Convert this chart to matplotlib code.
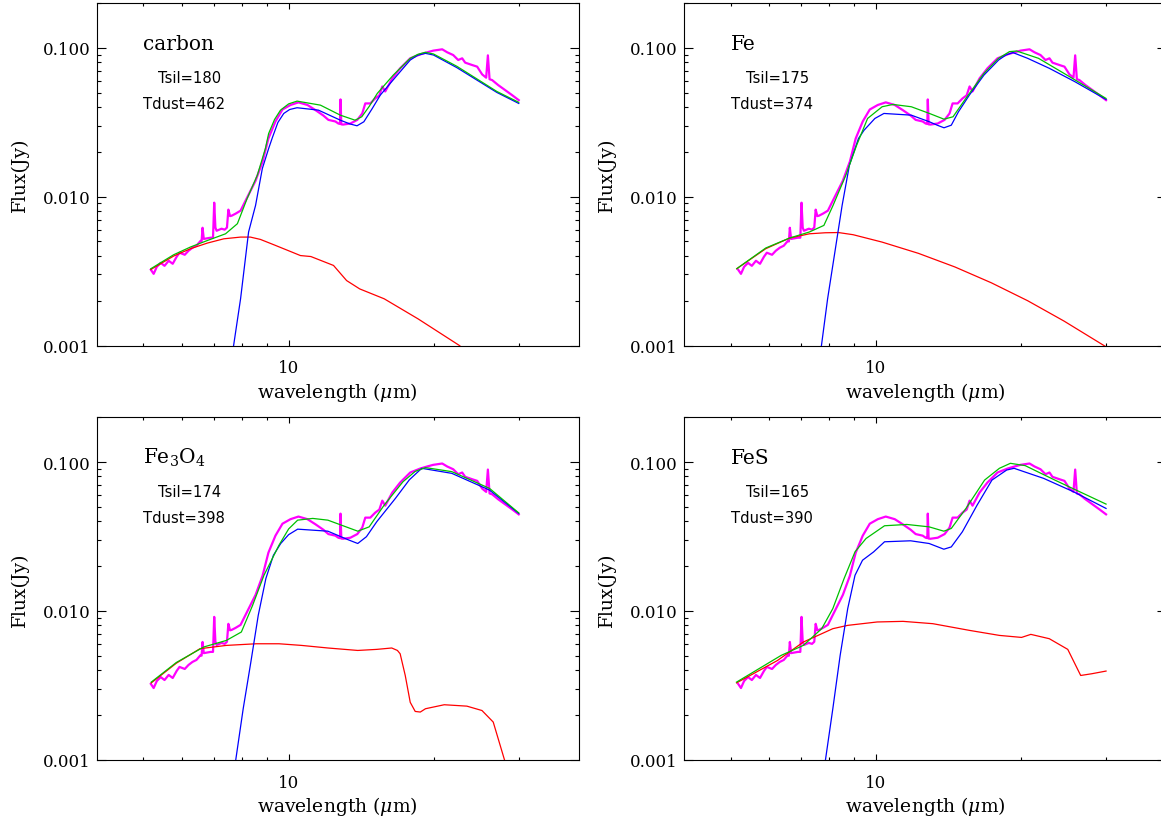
import matplotlib
matplotlib.use("Agg")
import matplotlib.pyplot as plt
from matplotlib.ticker import FixedLocator, FixedFormatter, NullFormatter

plt.rcParams['font.family'] = ['DejaVu Serif']
plt.rcParams['mathtext.fontset'] = 'dejavuserif'

# ---------------- data (wavelength in micron, flux in Jy) ----------------
obs_wl = [5.18, 5.25, 5.33, 5.43, 5.53, 5.64, 5.75, 5.86, 5.94, 6.09, 6.20, 6.32, 6.44, 6.57,
          6.60, 6.63, 6.67, 6.89, 6.97, 7.01, 7.05, 7.09, 7.26, 7.37, 7.45, 7.50, 7.56, 7.62,
          7.76, 7.95, 8.22, 8.54, 8.83, 9.08, 9.39, 9.71, 10.09, 10.48, 10.94, 11.36, 11.80,
          12.09, 12.50, 12.68, 12.78, 12.81, 12.86, 12.97, 13.43, 13.88, 14.21, 14.42, 14.77,
          15.12, 15.42, 15.64, 15.86, 16.40, 17.03, 17.87, 18.75, 19.38, 19.94, 20.82, 21.32,
          21.94, 22.47, 22.90, 23.23, 24.02, 24.60, 25.19, 25.68, 25.89, 26.10, 26.42, 27.19,
          28.11, 29.06, 30.0]
obs_flux = [0.00323, 0.00303, 0.00338, 0.00359, 0.00343, 0.00371, 0.00354, 0.00395, 0.00420,
            0.00407, 0.00433, 0.00454, 0.00468, 0.00505, 0.0050, 0.00618, 0.0052, 0.00530,
            0.0053, 0.00911, 0.0062, 0.00590, 0.00609, 0.00600, 0.0062, 0.00818, 0.0074,
            0.00745, 0.00768, 0.00805, 0.0100, 0.0128, 0.0172, 0.0246, 0.0320, 0.0385, 0.0413,
            0.0430, 0.0413, 0.0382, 0.0351, 0.0328, 0.0320, 0.0310, 0.0308, 0.0450, 0.0306,
            0.0305, 0.0310, 0.0328, 0.0362, 0.0423, 0.0423, 0.0457, 0.0479, 0.0550, 0.0509,
            0.0623, 0.0728, 0.0850, 0.0904, 0.0933, 0.0957, 0.0977, 0.0933, 0.0894, 0.0828,
            0.0850, 0.0795, 0.0766, 0.0747, 0.0663, 0.0630, 0.0890, 0.0615, 0.0607, 0.0562,
            0.0520, 0.0481, 0.0445]

# carbon
carbon_sil_wl = [7.51, 7.69, 7.95, 8.26, 8.54, 8.82, 9.09, 9.25, 9.50, 9.77, 10.05, 10.41,
                 11.53, 12.80, 13.40, 13.86, 14.32, 14.90, 15.49, 16.80, 17.87, 18.50, 19.20,
                 19.97, 22.33, 24.57, 27.02, 30.0]
carbon_sil_flux = [0.00067, 0.00100, 0.00206, 0.00579, 0.00874, 0.01544, 0.02105, 0.02485,
                   0.03150, 0.03622, 0.03850, 0.03957, 0.03813, 0.03264, 0.03080, 0.02993,
                   0.03184, 0.03900, 0.04810, 0.06558, 0.08276, 0.08900, 0.09183, 0.08944,
                   0.07356, 0.06070, 0.05015, 0.0423]
carbon_tot_wl = [5.18, 5.775, 6.26, 6.79, 7.40, 7.83, 8.20, 8.61, 8.95, 9.09, 9.35, 9.62, 10.0,
                 10.41, 11.64, 12.80, 13.73, 14.18, 14.70, 15.27, 16.48, 17.87, 18.55, 19.2,
                 19.97, 22.33, 24.57, 27.02, 30.0]
carbon_tot_flux = [0.00328, 0.00407, 0.00459, 0.00508, 0.00563, 0.00658, 0.00969, 0.01391,
                   0.02105, 0.02656, 0.03300, 0.03813, 0.04200, 0.04384, 0.04119, 0.03528,
                   0.03264, 0.03441, 0.04050, 0.04938, 0.06558, 0.0850, 0.0905, 0.09326,
                   0.0909, 0.0751, 0.0618, 0.0509, 0.0430]
carbon_dust_wl = [5.18, 5.775, 6.26, 6.79, 7.34, 7.95, 8.33, 8.74, 9.32, 10.09, 10.58, 11.12,
                  12.39, 13.19, 14.04, 15.78, 18.55, 22.6, 25.0]
carbon_dust_flux = [0.00324, 0.00399, 0.00447, 0.00488, 0.00521, 0.00535, 0.00535, 0.00516,
                    0.00475, 0.00428, 0.00402, 0.00396, 0.00345, 0.00273, 0.00240, 0.00206,
                    0.00151, 0.00100, 0.00075]

# Fe
fe_sil_wl = [7.5, 7.71, 7.94, 8.22, 8.51, 8.81, 9.20, 9.45, 9.95, 10.39, 11.84, 12.91, 13.40,
             13.84, 14.33, 14.83, 15.62, 16.75, 17.96, 18.60, 19.24, 20.63, 22.89, 25.85, 30.0]
fe_sil_flux = [0.00065, 0.00100, 0.00206, 0.00424, 0.00874, 0.01625, 0.02459, 0.02796, 0.03352,
               0.03622, 0.03528, 0.03184, 0.03020, 0.02902, 0.03021, 0.03719, 0.0481, 0.06558,
               0.08276, 0.0895, 0.09284, 0.0850, 0.07278, 0.05922, 0.04499]
fe_tot_wl = [5.145, 5.91, 6.62, 7.28, 7.80, 8.15, 8.66, 9.12, 9.61, 10.30, 10.85, 11.84, 12.91,
             13.84, 14.45, 15.36, 16.75, 17.96, 18.92, 19.58, 21.73, 24.54, 30.0]
fe_tot_flux = [0.00328, 0.00452, 0.00527, 0.00579, 0.00641, 0.00874, 0.01391, 0.02215, 0.03352,
               0.04018, 0.04164, 0.04018, 0.03622, 0.03315, 0.03441, 0.0457, 0.06735, 0.0850,
               0.09428, 0.09517, 0.0850, 0.06735, 0.0457]
fe_dust_wl = [5.145, 5.91, 6.62, 7.28, 7.85, 8.36, 8.97, 10.30, 12.25, 14.58, 17.34, 20.63,
              24.54, 30.0]
fe_dust_flux = [0.00328, 0.00447, 0.00527, 0.00563, 0.00572, 0.00574, 0.00555, 0.00495, 0.00416,
                0.00337, 0.00264, 0.00200, 0.00146, 0.00098]

# Fe3O4
fe3o4_sil_wl = [7.6, 7.77, 8.05, 8.35, 8.65, 8.97, 9.30, 9.63, 10.0, 10.44, 12.06, 13.30,
                13.91, 14.50, 15.23, 16.65, 17.80, 18.88, 21.79, 26.09, 30.0]
fe3o4_sil_flux = [0.00066, 0.00100, 0.00220, 0.00453, 0.00933, 0.01648, 0.02364, 0.02835,
                  0.03250, 0.03539, 0.03430, 0.03000, 0.02835, 0.03150, 0.03970, 0.05696,
                  0.07600, 0.09072, 0.08392, 0.06478, 0.04513]
fe3o4_tot_wl = [5.19, 5.85, 6.67, 7.43, 7.98, 8.42, 8.89, 9.55, 10.0, 10.44, 11.22, 12.06,
                13.91, 14.69, 15.78, 17.26, 18.30, 19.22, 21.79, 26.09, 30.0]
fe3o4_tot_flux = [0.00332, 0.00450, 0.00572, 0.00633, 0.00721, 0.01089, 0.01734, 0.02761,
                  0.03550, 0.04068, 0.04178, 0.04068, 0.03430, 0.03667, 0.05133, 0.07367,
                  0.08650, 0.09170, 0.08617, 0.06652, 0.0455]
fe3o4_dust_wl = [5.19, 5.85, 6.55, 7.43, 8.57, 9.55, 10.63, 12.06, 13.91, 15.23, 16.36, 16.81,
                 17.03, 17.45, 17.87, 18.30, 18.75, 19.22, 21.02, 23.42, 25.17, 26.56, 28.02, 29.0]
fe3o4_dust_flux = [0.00328, 0.00445, 0.00557, 0.00586, 0.00601, 0.00601, 0.00586, 0.00563,
                   0.00542, 0.00551, 0.00563, 0.00542, 0.00515, 0.00368, 0.00243, 0.00211,
                   0.00209, 0.00220, 0.00234, 0.00229, 0.00214, 0.00179, 0.00100, 0.0007]

# FeS
fes_sil_wl = [7.7, 7.86, 8.14, 8.43, 8.74, 9.05, 9.38, 9.89, 10.42, 11.80, 12.89, 13.83, 14.33,
              15.11, 16.21, 17.40, 18.67, 19.34, 22.27, 25.66, 30.0]
fes_sil_flux = [0.00066, 0.00100, 0.00220, 0.00502, 0.01035, 0.01734, 0.02188, 0.02489,
                0.02911, 0.02956, 0.02835, 0.02595, 0.02689, 0.03399, 0.05133, 0.07562,
                0.08834, 0.09072, 0.07764, 0.06321, 0.04877]
fes_tot_wl = [5.14, 6.36, 7.07, 7.72, 8.14, 8.59, 9.05, 9.54, 10.42, 11.59, 12.89, 13.83,
              14.33, 15.37, 16.80, 18.03, 19.00, 20.39, 23.49, 30.0]
fes_tot_flux = [0.00332, 0.00502, 0.00586, 0.00759, 0.01035, 0.01648, 0.02493, 0.03064,
                0.03730, 0.03806, 0.03667, 0.03430, 0.03578, 0.04877, 0.07562, 0.09072,
                0.09799, 0.09458, 0.07562, 0.05214]
fes_dust_wl = [5.14, 6.25, 7.07, 8.14, 8.74, 10.06, 11.38, 13.12, 15.64, 18.03, 20.04, 20.95,
               22.88, 24.99, 26.58, 28.03, 30.0]
fes_dust_flux = [0.00328, 0.00464, 0.00617, 0.00759, 0.00799, 0.00842, 0.00850, 0.00820,
                 0.00739, 0.00684, 0.00663, 0.00695, 0.00650, 0.00551, 0.00368, 0.00378, 0.00394]

panel_names = ["carbon", "Fe", r"Fe$_3$O$_4$", "FeS"]
tsil_values = [180, 175, 174, 165]
tdust_values = [462, 374, 398, 390]

x_major = [10]
x_major_labels = ["10"]
x_minor = [5, 6, 7, 8, 9, 20, 30]
y_major = [0.001, 0.01, 0.1]
y_major_labels = ["0.001", "0.010", "0.100"]
y_minor = [m * d for d in (0.001, 0.01, 0.1) for m in range(2, 10)]

panels = [
    (carbon_sil_wl, carbon_sil_flux, carbon_tot_wl, carbon_tot_flux, carbon_dust_wl, carbon_dust_flux),
    (fe_sil_wl, fe_sil_flux, fe_tot_wl, fe_tot_flux, fe_dust_wl, fe_dust_flux),
    (fe3o4_sil_wl, fe3o4_sil_flux, fe3o4_tot_wl, fe3o4_tot_flux, fe3o4_dust_wl, fe3o4_dust_flux),
    (fes_sil_wl, fes_sil_flux, fes_tot_wl, fes_tot_flux, fes_dust_wl, fes_dust_flux),
]

# ---------------- figure ----------------
W, H = 1161, 820
fig = plt.figure(figsize=(W / 100, H / 100), dpi=100)
fig.patch.set_facecolor("white")

ax_w, ax_h = 482.3, 342.5
lefts = [96.7, 684.0]
bottoms = [346.5, 760.7]
positions = [(lefts[0], bottoms[0]), (lefts[1], bottoms[0]), (lefts[0], bottoms[1]), (lefts[1], bottoms[1])]

for i, (pl, pb) in enumerate(positions):
    ax = fig.add_axes([pl / W, 1 - pb / H, ax_w / W, ax_h / H])
    sw, sf, tw, tf, dw, df = panels[i]
    ax.plot(obs_wl, obs_flux, color="#ff00ff", lw=1.6, zorder=2)
    ax.plot(dw, df, color="#ff0000", lw=0.9, zorder=3)
    ax.plot(sw, sf, color="#0000ff", lw=0.9, zorder=4)
    ax.plot(tw, tf, color="#00c000", lw=0.9, zorder=5)

    ax.set_xscale("log")
    ax.set_yscale("log")
    ax.set_xlim(4, 40)
    ax.set_ylim(0.001, 0.2)

    ax.xaxis.set_major_locator(FixedLocator(x_major))
    ax.xaxis.set_major_formatter(FixedFormatter(x_major_labels))
    ax.xaxis.set_minor_locator(FixedLocator(x_minor))
    ax.xaxis.set_minor_formatter(NullFormatter())
    ax.yaxis.set_major_locator(FixedLocator(y_major))
    ax.yaxis.set_major_formatter(FixedFormatter(y_major_labels))
    ax.yaxis.set_minor_locator(FixedLocator(y_minor))
    ax.yaxis.set_minor_formatter(NullFormatter())

    ax.tick_params(which="both", direction="in", top=True, right=True, width=0.8, colors="black")
    ax.tick_params(axis="x", which="major", length=4.3, pad=10, labelsize=12)
    ax.tick_params(axis="x", which="minor", length=2.4)
    ax.tick_params(axis="y", which="major", length=6.8, pad=4.5, labelsize=12)
    ax.tick_params(axis="y", which="minor", length=3.2)
    for s in ax.spines.values():
        s.set_linewidth(0.8)

    ax.set_xlabel(r"wavelength ($\mu$m)", fontsize=13.5)
    ax.xaxis.set_label_coords(0.5, -0.134)
    ax.xaxis.label.set_va("center")
    ax.set_ylabel("Flux(Jy)", fontsize=13.5)
    ax.yaxis.set_label_coords(-0.159, 0.5)
    ax.yaxis.label.set_va("center")

    ax.text(0.0966, 0.866, panel_names[i], transform=ax.transAxes, fontsize=14.5,
            ha="left", va="baseline")
    ax.text(0.1277, 0.7685, "Tsil=%d" % tsil_values[i], transform=ax.transAxes, fontsize=10.6,
            family="DejaVu Sans", ha="left", va="baseline")
    ax.text(0.0966, 0.6934, "Tdust=%d" % tdust_values[i], transform=ax.transAxes, fontsize=10.6,
            family="DejaVu Sans", ha="left", va="baseline")

fig.savefig("out.png", dpi=100, facecolor="white")
